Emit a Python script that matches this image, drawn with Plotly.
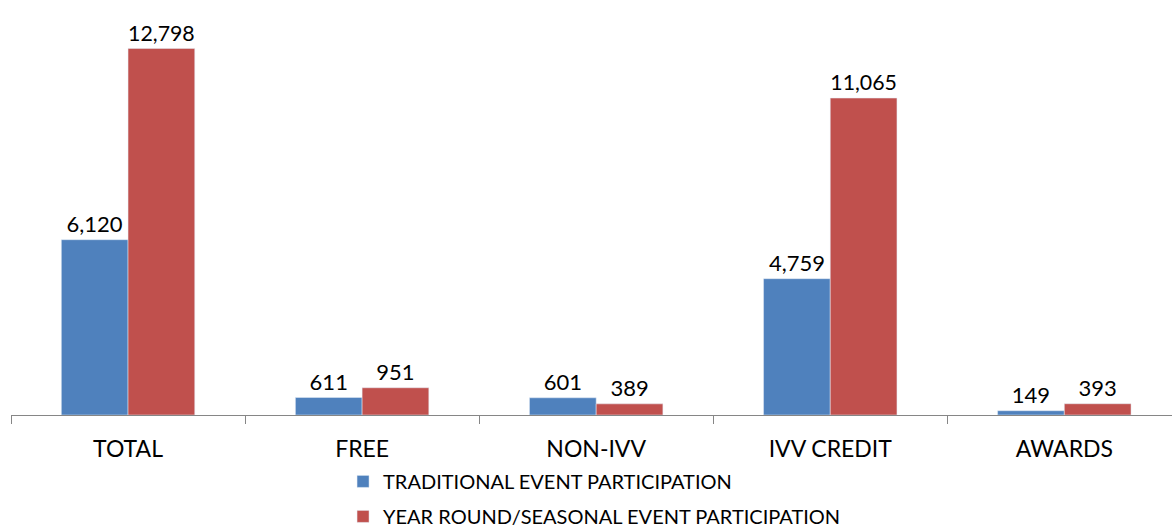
import plotly.graph_objects as go

categories = ["TOTAL", "FREE", "NON-IVV", "IVV CREDIT", "AWARDS"]
traditional = [6120, 611, 601, 4759, 149]
year_round = [12798, 951, 389, 11065, 393]

BLUE = "#4F81BD"
RED = "#C0504D"
FONT = "Lato, Carlito, Calibri, sans-serif"

fig = go.Figure()

fig.add_trace(go.Bar(
    x=categories,
    y=traditional,
    name="TRADITIONAL EVENT PARTICIPATION",
    legendgroup="trad",
    marker=dict(color=BLUE),
    text=[f"{v:,}" for v in traditional],
    textposition="outside",
    textfont=dict(size=22, color="black"),
    cliponaxis=False,
))

fig.add_trace(go.Bar(
    x=categories,
    y=year_round,
    name="YEAR ROUND/SEASONAL EVENT PARTICIPATION",
    legendgroup="year",
    marker=dict(color=RED),
    text=[f"{v:,}" for v in year_round],
    textposition="outside",
    textfont=dict(size=22, color="black"),
    cliponaxis=False,
))

fig.update_layout(
    barmode="group",
    bargap=0.43,
    bargroupgap=0,
    width=1172,
    height=529,
    plot_bgcolor="white",
    paper_bgcolor="white",
    font=dict(family=FONT, size=20, color="black"),
    margin=dict(l=11, r=0, t=14, b=114, autoexpand=False),
    xaxis=dict(
        range=[-0.5, 4.46],
        showline=True,
        linecolor="#868686",
        linewidth=1,
        ticks="outside",
        tickson="boundaries",
        ticklen=8,
        tickcolor="#868686",
        showgrid=False,
        tickfont=dict(size=23),
        ticklabelstandoff=13,
        automargin=False,
    ),
    yaxis=dict(
        range=[0, 14000],
        visible=False,
        showgrid=False,
        automargin=False,
    ),
    legend=dict(
        x=0.286,
        y=-0.117,
        xanchor="left",
        yanchor="top",
        orientation="v",
        font=dict(size=20),
        tracegroupgap=6,
        bgcolor="rgba(0,0,0,0)",
    ),
)

# strip the default page margin so the figure sits at the window origin
fig.write_html(
    "out.html",
    config={"displayModeBar": False},
    post_script="document.body.style.margin='0';",
)
